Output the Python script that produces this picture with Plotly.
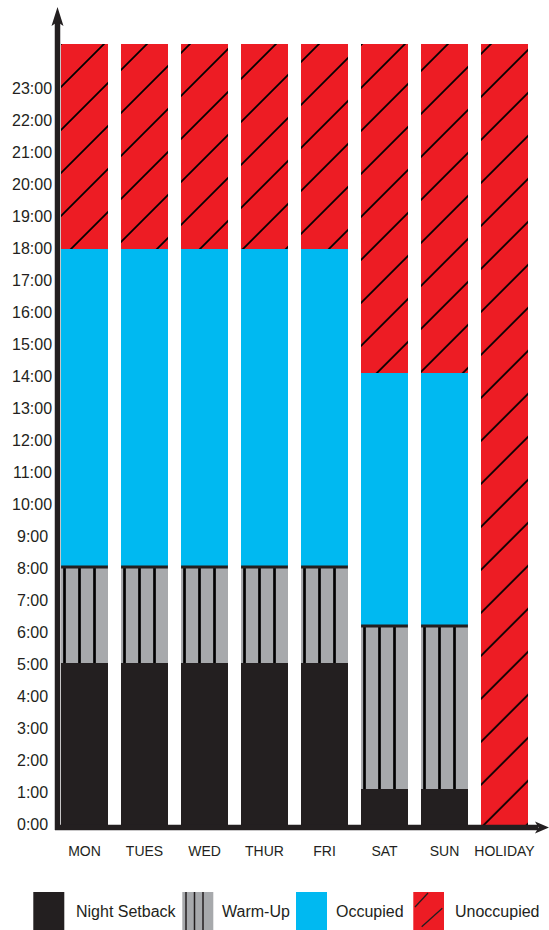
import plotly.graph_objects as go

# ---------- DATA ----------
days = ["MON", "TUES", "WED", "THUR", "FRI", "SAT", "SUN", "HOLIDAY"]

# hours spent in each mode, stacked from midnight upward
night_setback = [5.05, 5.05, 5.05, 5.05, 5.05, 1.1, 1.1, 0]
warm_up = [3.0, 3.0, 3.0, 3.0, 3.0, 5.1, 5.1, 0]
occupied = [9.95, 9.95, 9.95, 9.95, 9.95, 7.9, 7.9, 0]
unoccupied = [6.4, 6.4, 6.4, 6.4, 6.4, 10.3, 10.3, 24.4]

hour_ticks = list(range(24))
hour_labels = [f"{h}:00" for h in hour_ticks]

legend_names = ["Night Setback", "Warm-Up", "Occupied", "Unoccupied"]

# ---------- STYLE ----------
INK = "#231f20"
GREY = "#a7a9ac"
CYAN = "#00b9f1"
RED = "#ed1c24"
FONT = "Liberation Sans, Arial, sans-serif"

W, H = 549, 930
ML, MR, MT, MB = 57, 0, 5, 98
PW, PH = W - ML - MR, H - MT - MB


def paper(x, y):
    """Page pixel -> paper coordinates."""
    return (x - ML) / PW, (H - MB - y) / PH


def path_px(points):
    parts = []
    for i, (x, y) in enumerate(points):
        px, py = paper(x, y)
        parts.append(("M" if i == 0 else "L") + f"{px:.5f},{py:.5f}")
    return " ".join(parts) + " Z"


def line_px(x0, y0, x1, y1, width, color=INK):
    a, b = paper(x0, y0)
    c, d = paper(x1, y1)
    return dict(type="line", xref="paper", yref="paper", x0=a, y0=b, x1=c, y1=d,
                line=dict(color=color, width=width), layer="above")


def rect_px(x0, y0, x1, y1, color):
    a, b = paper(x0, y0)
    c, d = paper(x1, y1)
    return dict(type="rect", xref="paper", yref="paper", x0=a, y0=b, x1=c, y1=d,
                fillcolor=color, line=dict(width=0), layer="above")


# ---------- FIGURE ----------
fig = go.Figure()

fig.add_trace(go.Bar(
    x=days, y=night_setback, name=legend_names[0],
    marker=dict(color=INK, line=dict(width=0)),
))
fig.add_trace(go.Bar(
    x=days, y=warm_up, name=legend_names[1],
    marker=dict(color=GREY, line=dict(width=0),
                pattern=dict(shape="|", bgcolor=GREY, fgcolor="#000000", fgopacity=1,
                             size=15, solidity=0.18)),
))
fig.add_trace(go.Bar(
    x=days, y=occupied, name=legend_names[2],
    marker=dict(color=CYAN, line=dict(width=0)),
))
fig.add_trace(go.Bar(
    x=days, y=unoccupied, name=legend_names[3],
    marker=dict(color=RED, line=dict(width=0),
                pattern=dict(shape="/", bgcolor=RED, fgcolor="#000000", fgopacity=1,
                             size=30.4, solidity=0.058)),
))

shapes = []

# black rule on top of each warm-up block
half = 0.39
for i, (n, w) in enumerate(zip(night_setback, warm_up)):
    if w > 0:
        shapes.append(dict(type="line", xref="x", yref="y",
                           x0=i - half, x1=i + half, y0=n + w, y1=n + w,
                           line=dict(color=INK, width=3), layer="above"))

# axes with arrowheads
shapes.append(line_px(57.5, 830, 57.5, 22, 5.5))
shapes.append(dict(type="path", xref="paper", yref="paper", layer="above",
                   path=path_px([(51.5, 26), (57.5, 7), (63.5, 26), (57.5, 22)]),
                   fillcolor=INK, line=dict(width=0)))
shapes.append(line_px(55, 827.5, 538, 827.5, 5.5))
shapes.append(dict(type="path", xref="paper", yref="paper", layer="above",
                   path=path_px([(535, 821.5), (549, 827.5), (535, 833.5), (538.5, 827.5)]),
                   fillcolor=INK, line=dict(width=0)))

# legend swatches
shapes.append(rect_px(33.3, 892, 64.3, 932, INK))
shapes.append(rect_px(182.3, 892, 213.3, 932, GREY))
for lx in (186.0, 194.5, 203.0):
    shapes.append(line_px(lx, 892, lx, 932, 1.5))
shapes.append(rect_px(296, 892, 327, 932, CYAN))
shapes.append(rect_px(413.3, 892, 444, 932, RED))
shapes.append(line_px(415, 907, 428, 893, 1.3))
shapes.append(line_px(421.7, 926.7, 442.3, 908.3, 1.3))

annotations = []
for h, lab in zip(hour_ticks, hour_labels):
    annotations.append(dict(
        x=paper(32, 0)[0], xref="paper", y=h, yref="y", text=lab,
        showarrow=False, xanchor="center", yanchor="middle",
        font=dict(family=FONT, size=16, color=INK),
    ))

for name, lx in zip(legend_names, (74.3, 220, 334.3, 452.7)):
    px, py = paper(lx, 912)
    annotations.append(dict(
        x=px, xref="paper", y=py, yref="paper", text=name,
        showarrow=False, xanchor="left", yanchor="middle",
        font=dict(family=FONT, size=16, color=INK),
    ))

fig.update_layout(
    width=W, height=H,
    margin=dict(l=ML, r=MR, t=MT, b=MB),
    barmode="stack", bargap=0.2167,
    showlegend=False,
    plot_bgcolor="white", paper_bgcolor="white",
    shapes=shapes, annotations=annotations,
)
fig.update_xaxes(
    range=[-0.4583, 7.7417], showgrid=False, zeroline=False, showline=False,
    ticks="", ticklabelstandoff=9,
    tickfont=dict(family=FONT, size=14, color=INK),
)
fig.update_yaxes(
    range=[-0.234375, 25.609375], showgrid=False, zeroline=False, showline=False,
    showticklabels=False, ticks="",
)

# the page's default body margin would push the figure 8px off
fig.write_html(
    "out.html",
    config={"displayModeBar": False},
    post_script="document.body.style.margin='0';",
)
